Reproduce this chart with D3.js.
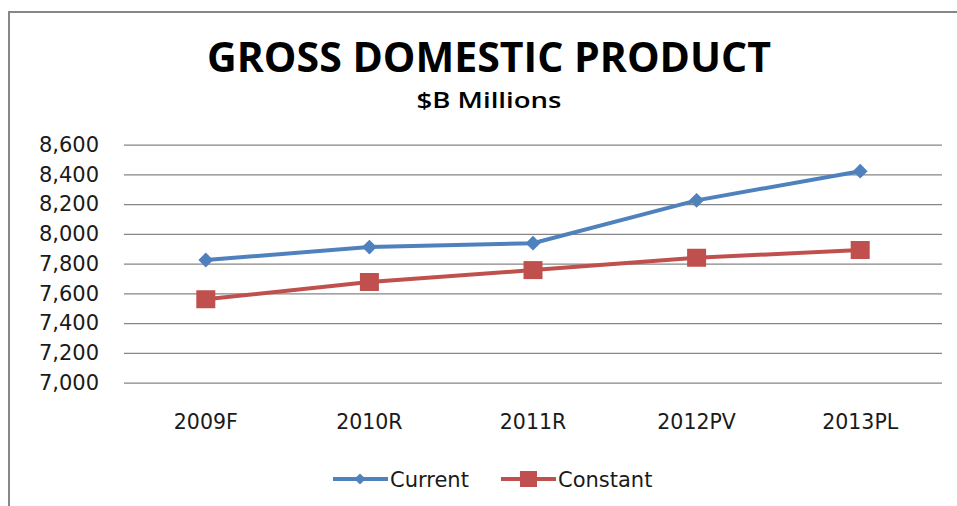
<!DOCTYPE html>
<html>
<head>
<meta charset="utf-8">
<script src="https://cdn.jsdelivr.net/npm/d3@7"></script>
<style>
  body { margin: 0; background: white; }
</style>
</head>
<body>
<div id="container"></div>
<script>
let w = 957;
let h = 506;

// data
let years = ["2009F", "2010R", "2011R", "2012PV", "2013PL"];
let current = [7825, 7912, 7938, 8226, 8422];
let constant = [7561, 7677, 7757, 7840, 7892];
let yTicks = [7000, 7200, 7400, 7600, 7800, 8000, 8200, 8400, 8600];

let blue = "#4F81BD";
let red = "#C0504D";
let textColor = "#1a1a1a";

let viz = d3.select("#container")
  .append("svg")
    .attr("width", w)
    .attr("height", h)
    .style("background-color", "white")
;

// chart frame
viz.append("rect")
    .attr("x", 9)
    .attr("y", 12)
    .attr("width", 1000)
    .attr("height", 600)
    .attr("fill", "white")
    .attr("stroke", "#878787")
    .attr("stroke-width", 2)
;

viz.append("text")
    .text("GROSS DOMESTIC PRODUCT")
    .attr("x", 489)
    .attr("y", 72)
    .attr("text-anchor", "middle")
    .attr("font-family", "Open Sans")
    .attr("font-weight", "bold")
    .attr("font-size", 42)
    .attr("textLength", 564)
    .attr("lengthAdjust", "spacingAndGlyphs")
    .attr("fill", "black")
;

viz.append("text")
    .text("$B Millions")
    .attr("x", 489)
    .attr("y", 108)
    .attr("text-anchor", "middle")
    .attr("font-family", "Open Sans")
    .attr("font-weight", 600)
    .attr("font-size", 22)
    .attr("textLength", 145)
    .attr("lengthAdjust", "spacingAndGlyphs")
    .attr("fill", "black")
;

let plotLeft = 124, plotRight = 942, plotTop = 144.7, plotBottom = 382.7;

let xScale = d3.scaleBand().domain(years).range([plotLeft, plotRight]);
let yScale = d3.scaleLinear().domain([7000, 8600]).range([plotBottom, plotTop]);

// gridlines + y labels
let yAxis = d3.axisLeft(yScale)
    .tickValues(yTicks)
    .tickSize(-(plotRight - plotLeft))
    .tickPadding(25)
    .tickFormat(d3.format(","));

let yg = viz.append("g")
    .attr("transform", "translate(" + plotLeft + ",0)")
    .call(yAxis);
yg.select(".domain").remove();
yg.selectAll(".tick line").attr("stroke", "#868686").attr("stroke-width", 1.3);
yg.selectAll(".tick text")
    .attr("font-family", "DejaVu Sans")
    .attr("font-size", 21)
    .attr("fill", textColor);

// x labels
let xAxis = d3.axisBottom(xScale).tickSize(0).tickPadding(32);
let xg = viz.append("g")
    .attr("transform", "translate(0," + plotBottom + ")")
    .call(xAxis);
xg.select(".domain").remove();
xg.selectAll(".tick text")
    .attr("font-family", "DejaVu Sans")
    .attr("font-size", 20.5)
    .attr("fill", textColor);

function xPosition(d, i) {
  return xScale(years[i]) + xScale.bandwidth() / 2;
}

let line = d3.line()
    .x(xPosition)
    .y(d => yScale(d));

viz.append("path")
    .datum(current)
    .attr("d", line)
    .attr("fill", "none")
    .attr("stroke", blue)
    .attr("stroke-width", 4)
;
viz.append("path")
    .datum(constant)
    .attr("d", line)
    .attr("fill", "none")
    .attr("stroke", red)
    .attr("stroke-width", 4)
;

let diamond = d3.symbol().type(d3.symbolDiamond2).size(140);
let smallDiamond = d3.symbol().type(d3.symbolDiamond2).size(80);

viz.selectAll(".cur").data(current).enter()
  .append("path")
    .classed("cur", true)
    .attr("d", diamond)
    .attr("transform", (d, i) => "translate(" + xPosition(d, i) + "," + yScale(d) + ")")
    .attr("fill", blue)
;

viz.selectAll(".con").data(constant).enter()
  .append("rect")
    .classed("con", true)
    .attr("x", (d, i) => xPosition(d, i) - 9.5)
    .attr("y", d => yScale(d) - 9)
    .attr("width", 19)
    .attr("height", 18)
    .attr("fill", red)
;

// legend
let legend = [
  {name: "Current", color: blue, x: 333},
  {name: "Constant", color: red, x: 501}
];
let lg = viz.selectAll(".legend").data(legend).enter()
  .append("g")
    .classed("legend", true)
    .attr("transform", d => "translate(" + d.x + ",479)");

lg.append("line")
    .attr("x1", 0).attr("x2", 55)
    .attr("y1", 0).attr("y2", 0)
    .attr("stroke", d => d.color)
    .attr("stroke-width", 4);

lg.filter(d => d.name == "Current").append("path")
    .attr("d", smallDiamond)
    .attr("transform", "translate(27,0)")
    .attr("fill", blue);

lg.filter(d => d.name == "Constant").append("rect")
    .attr("x", 19).attr("y", -8)
    .attr("width", 17).attr("height", 16)
    .attr("fill", red);

lg.append("text")
    .text(d => d.name)
    .attr("x", 57)
    .attr("y", 7.5)
    .attr("font-family", "DejaVu Sans")
    .attr("font-size", 21)
    .attr("fill", textColor);
</script>
</body>
</html>
